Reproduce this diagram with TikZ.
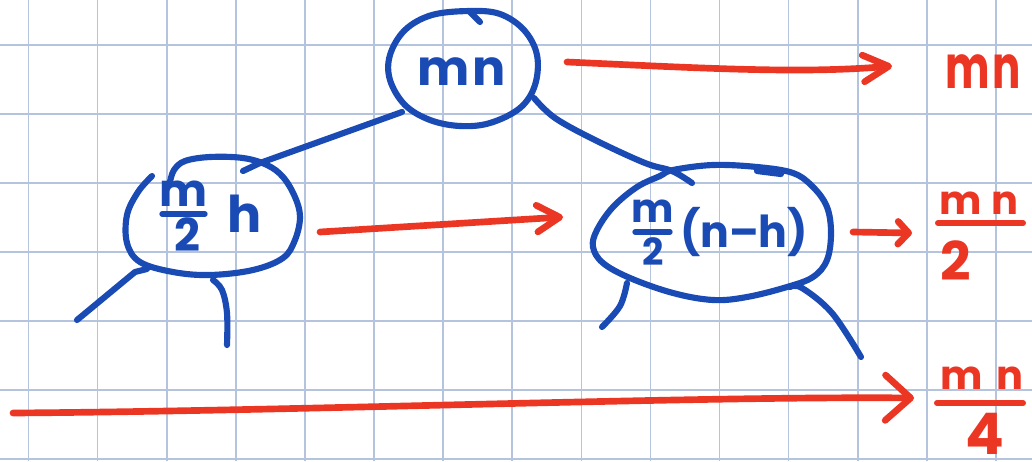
\documentclass[tikz,border=0pt]{standalone}
\usepackage{fontspec}
\usepackage{graphicx}
\setmainfont{Poppins}
\usetikzlibrary{arrows.meta}
\definecolor{ink}{RGB}{26,75,180}
\definecolor{pen}{RGB}{236,54,36}
\definecolor{gridc}{RGB}{180,195,222}
% handwritten-looking text: [x-scale]{size in pt}{text}
\newcommand\hw[3][1]{\scalebox{#1}[1]{\fontsize{#2}{#2}\selectfont\bfseries #3}}
\begin{document}
\begin{tikzpicture}[x=0.75pt,y=-0.75pt,
  gridline/.style={draw=gridc,line width=1.2pt},
  blue/.style={draw=ink,line width=4.6pt,line cap=round,line join=round},
  red/.style={draw=pen,line width=5pt,line cap=round,line join=round},
  btxt/.style={text=ink,inner sep=0pt,anchor=base},
  rtxt/.style={text=pen,inner sep=0pt,anchor=base}]
\useasboundingbox (0,0) rectangle (1032,461);
\fill[white] (0,0) rectangle (1032,461);

% squared paper
\foreach \i in {0,...,14} \draw[gridline] ({28.5+69.1*\i},0) -- ({28.5+69.1*\i},461);
\foreach \j in {0,...,6} \draw[gridline] (0,{45+69*\j}) -- (1032,{45+69*\j});

% ---- tree nodes (hand-drawn outlines) ----
\draw[blue] plot[smooth cycle,tension=0.6] coordinates {(470,11) (500,14) (524,30) (537,55) (535,85) (520,108) (490,123) (460,126) (430,120) (405,105) (390,80) (390,55) (405,30) (432,15)};
\draw[blue] (470,12) -- (480,22);
\node[btxt] (rootlbl) at (462,85) {\hw{37}{m\hspace{2pt}n}};

\draw[blue] plot[smooth,tension=0.6] coordinates {(152,176) (138,192) (127,215) (127,243) (140,262) (173,272) (210,275) (253,270) (283,258) (295,240) (300,217) (295,197) (283,177) (267,165) (243,158) (210,157) (185,161) (174,170) (170,182)};
\node[btxt] (lnum) at (184,206) {\hw{34}{m}};
\draw[blue,line width=4pt] (162,214) -- (205,214);
\node[btxt] (lden) at (187,251) {\hw{34}{2}};
\node[btxt] (lh) at (245,232) {\hw{38}{h}};

\draw[blue] plot[smooth cycle,tension=0.6] coordinates {(673,170) (713,165) (757,167) (793,173) (813,187) (827,207) (831,233) (827,260) (813,277) (787,287) (747,297) (713,300) (673,293) (630,278) (603,263) (593,247) (597,230) (613,207) (637,187) (660,176)};
\draw[blue] (757,171) -- (781,174);
\node[btxt] (rnum) at (653,222) {\hw{30}{m}};
\draw[blue,line width=4pt] (635,232) -- (670,232);
\node[btxt] (rden) at (653,265) {\hw{28}{2}};
\node[btxt] (rrest) at (744,247) {\hw[0.97]{33}{(n–h)}};

% ---- tree edges ----
\coordinate (rL) at (402,112);
\coordinate (kL) at (260,163);
\coordinate (lT) at (243,171);
\coordinate (rR) at (534,98);
\coordinate (rT) at (692,183);
\draw[blue] (rL) -- (kL) -- (lT);
\draw[blue] plot[smooth,tension=0.6] coordinates {(rR) (555,118) (595,140) (645,163) (672,171) (rT)};

\coordinate (lb1) at (147,269);
\coordinate (lb1e) at (77,320);
\coordinate (lb2) at (213,280);
\coordinate (lb2e) at (227,345);
\draw[blue] (lb1) -- (135,272) -- (lb1e);
\draw[blue] plot[smooth,tension=0.6] coordinates {(lb2) (222,290) (227,313) (lb2e)};

\coordinate (rb1) at (627,283);
\coordinate (rb1e) at (602,327);
\coordinate (rb2) at (790,287);
\coordinate (rb2e) at (861,357);
\draw[blue] plot[smooth,tension=0.6] coordinates {(rb1) (620,306) (rb1e)};
\draw[blue] plot[smooth,tension=0.6] coordinates {(rb2) (802,288) (832,313) (rb2e)};

% ---- level costs ----
\node[rtxt] (o1) at (983,88) {\hw[0.7]{45}{m\hspace{3pt}n}};
\node[rtxt] (o2n) at (979,214) {\hw{30}{m\hspace{7pt}n}};
\draw[red,line width=4.5pt] (938,223) -- (1023,223);
\node[rtxt] (o2d) at (956,280) {\hw{40}{2}};
\node[rtxt] (o3n) at (982,389) {\hw{30}{m\hspace{10pt}n}};
\draw[red,line width=4.5pt] (937,403) -- (1023,403);
\node[rtxt] (o3d) at (985,454) {\hw{43}{4}};

\coordinate (a1s) at (567,62);
\coordinate (a1e) at (892,66);
\coordinate (a2s) at (320,232);
\coordinate (a2e) at (563,217);
\coordinate (a3s) at (853,232);
\coordinate (a3e) at (912,233);
\coordinate (a4s) at (13,413);
\coordinate (a4e) at (914,398);
\draw[red,-{Straight Barb[length=19pt,width=20pt,round]}] (a1s) .. controls (700,68) and (800,74) .. (a1e);
\draw[red,-{Straight Barb[length=17pt,width=20pt,round]}] (a2s) -- (a2e);
\draw[red,-{Straight Barb[length=8pt,width=17pt,round]}] (a3s) -- (a3e);
\draw[red,-{Straight Barb[length=19pt,width=34pt,round]}] (a4s) .. controls (300,411) and (700,396) .. (a4e);
\end{tikzpicture}
\end{document}
